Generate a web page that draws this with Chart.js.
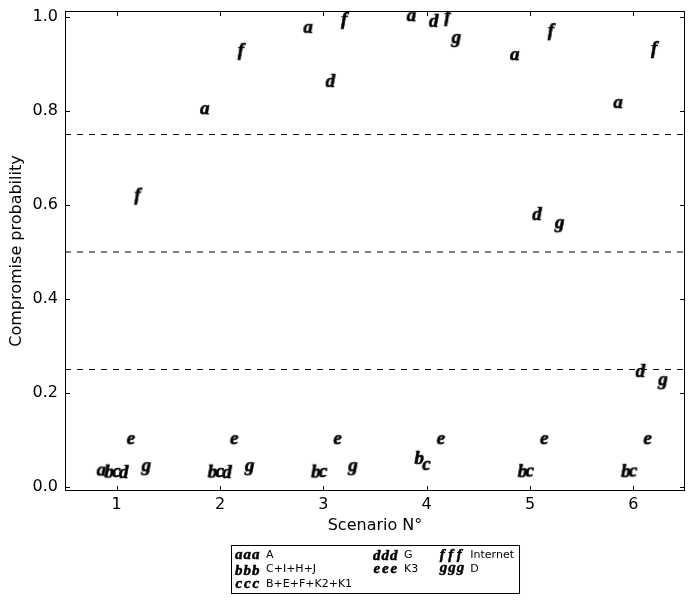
<!DOCTYPE html>
<html>
<head>
<meta charset="utf-8">
<script src="https://cdn.jsdelivr.net/npm/chart.js@4"></script>
<style>
  body { margin: 0; background: #fff; }
  #wrap { width: 694px; height: 603px; }
</style>
</head>
<body>
<div id="wrap"><canvas id="chart"></canvas></div>
<script>
// data
const SCENARIOS = [1, 2, 3, 4, 5, 6];
const LETTERS = ['a', 'b', 'c', 'd', 'e', 'f', 'g'];
const LABELS = ['A', 'C+I+H+J', 'B+E+F+K2+K1', 'G', 'K3', 'Internet', 'D'];
const A = [0.035, 0.804, 0.977, 1.002, 0.919, 0.817];
const CIHJ = [0.035, 0.035, 0.035, 0.064, 0.036, 0.036];
const BEFK = [0.032, 0.032, 0.032, 0.047, 0.033, 0.033];
const G = [0.034, 0.034, 0.866, 0.994, 0.583, 0.249];
const K3 = [0.102, 0.102, 0.102, 0.102, 0.102, 0.102];
const INTERNET = [0.620, 0.928, 0.994, 1.000, 0.970, 0.932];
const D = [0.040, 0.040, 0.040, 0.951, 0.557, 0.223];
const SERIES = [A, CIHJ, BEFK, G, K3, INTERNET, D];
const THRESHOLDS = [0.25, 0.5, 0.75];
const X_TICKS = [1, 2, 3, 4, 5, 6];
const Y_TICKS = [0, 0.2, 0.4, 0.6, 0.8, 1.0];

// side-by-side offset of each series around the scenario number
const DODGE = [-0.145, -0.075, 0, 0.07, 0.14, 0.21, 0.28];

const GLYPH_FONT = '"Liberation Serif", "DejaVu Serif", serif';

// draw a letter with its ink box centred on (x, y), like a matplotlib text marker
const drawGlyph = (ctx, ch, x, y, size) => {
  ctx.font = `italic bold ${size}px ${GLYPH_FONT}`;
  ctx.textAlign = 'left';
  ctx.textBaseline = 'alphabetic';
  const m = ctx.measureText(ch);
  const w = m.actualBoundingBoxLeft + m.actualBoundingBoxRight;
  const h = m.actualBoundingBoxAscent + m.actualBoundingBoxDescent;
  const gx = x - w / 2 + m.actualBoundingBoxLeft;
  const gy = y - h / 2 + m.actualBoundingBoxAscent;
  ctx.fillText(ch, gx, gy);
  // a bit heavier, the reference letters are quite black
  ctx.lineWidth = size / 30;
  ctx.strokeStyle = ctx.fillStyle;
  ctx.strokeText(ch, gx, gy);
};

const glyphImage = (ch, size) => {
  const c = document.createElement('canvas');
  c.width = 26;
  c.height = 26;
  const ctx = c.getContext('2d');
  ctx.fillStyle = '#000';
  drawGlyph(ctx, ch, 13, 13, size);
  return c;
};

// box, inward ticks and column-ordered legend
const frame = {
  id: 'frame',
  afterDraw(chart) {
    const { ctx, chartArea: { left, right, top, bottom }, scales: { x, y } } = chart;
    const line = (x1, y1, x2, y2) => {
      ctx.beginPath();
      ctx.moveTo(x1, y1);
      ctx.lineTo(x2, y2);
      ctx.stroke();
    };
    ctx.save();
    ctx.strokeStyle = '#000';
    ctx.lineWidth = 1;
    ctx.strokeRect(Math.round(left) + 0.5, Math.round(top) + 0.5, Math.round(right - left) - 1, Math.round(bottom - top) - 1);
    X_TICKS.forEach(v => {
      const px = Math.round(x.getPixelForValue(v)) + 0.5;
      line(px, bottom, px, bottom - 5);
      line(px, top, px, top + 5);
    });
    Y_TICKS.forEach(v => {
      const py = Math.round(y.getPixelForValue(v)) + 0.5;
      line(left, py, left + 5, py);
      line(right, py, right - 5, py);
    });

    // legend, 3 columns filled top to bottom
    const cols = [[0, 1, 2], [3, 4], [5, 6]];
    ctx.font = '11px "DejaVu Sans"';
    const colWidths = cols.map(col => 31 + Math.max(...col.map(i => ctx.measureText(LABELS[i]).width)));
    const boxW = 4 + colWidths.reduce((s, w) => s + w, 0) + 21 * (cols.length - 1) + 5;
    const boxH = 48;
    const boxX = Math.round((left + right) / 2 - boxW / 2);
    const boxY = Math.round(bottom + 54);
    ctx.fillStyle = '#fff';
    ctx.fillRect(boxX, boxY, boxW, boxH);
    ctx.lineWidth = 1;
    ctx.strokeStyle = '#000';
    ctx.strokeRect(boxX + 0.5, boxY + 0.5, boxW, boxH);
    let cx = boxX + 4;
    cols.forEach((col, ci) => {
      col.forEach((i, row) => {
        const ry = boxY + 10 + row * 14.5;
        ctx.fillStyle = '#000';
        [4, 12.5, 21].forEach(dx => drawGlyph(ctx, LETTERS[i], cx + dx, ry, 15));
        ctx.font = '11px "DejaVu Sans"';
        ctx.textAlign = 'left';
        ctx.textBaseline = 'middle';
        ctx.fillText(LABELS[i], cx + 31, ry);
      });
      cx += colWidths[ci] + 21;
    });
    ctx.restore();
  }
};

const main = () => {
  Chart.defaults.font.family = '"DejaVu Sans"';
  Chart.defaults.font.size = 16;
  Chart.defaults.color = '#000';

  const datasets = SERIES.map((values, i) => ({
    type: 'scatter',
    label: LABELS[i],
    data: values.map((v, j) => ({ x: SCENARIOS[j] + DODGE[i], y: v })),
    pointStyle: glyphImage(LETTERS[i], 19),
    pointRadius: 8,
    clip: 0
  }));

  THRESHOLDS.forEach(t => {
    datasets.push({
      type: 'line',
      label: '',
      data: [{ x: 0.5, y: t }, { x: 6.5, y: t }],
      borderColor: '#000',
      borderWidth: 1,
      borderDash: [6, 6],
      pointRadius: 0
    });
  });

  new Chart(document.getElementById('chart'), {
    type: 'scatter',
    data: { datasets },
    options: {
      responsive: true,
      maintainAspectRatio: false,
      animation: false,
      layout: { padding: { top: 11, right: 9, bottom: 60, left: 0 } },
      plugins: {
        legend: { display: false },
        tooltip: { enabled: false }
      },
      scales: {
        x: {
          type: 'linear',
          min: 0.5,
          max: 6.5,
          grid: { display: false, drawTicks: false },
          border: { display: false },
          afterBuildTicks: s => { s.ticks = X_TICKS.map(v => ({ value: v })); },
          ticks: { padding: 4, callback: v => String(v) },
          title: { display: true, text: 'Scenario N°', padding: { top: 2, bottom: 8 } },
          afterFit: s => {
            s.height = 52;
            s.paddingLeft = 0;
            s.paddingRight = 0;
          }
        },
        y: {
          type: 'linear',
          min: -0.0085,
          max: 1.0128,
          grid: { display: false, drawTicks: false },
          border: { display: false },
          afterBuildTicks: s => { s.ticks = Y_TICKS.map(v => ({ value: v })); },
          ticks: { padding: 7, callback: v => v.toFixed(1) },
          title: { display: true, text: 'Compromise probability', padding: { top: 7, bottom: 0 } },
          afterFit: s => {
            s.width = 65;
            s.paddingTop = 0;
            s.paddingBottom = 0;
          }
        }
      }
    },
    plugins: [frame]
  });
};

main();
</script>
</body>
</html>
